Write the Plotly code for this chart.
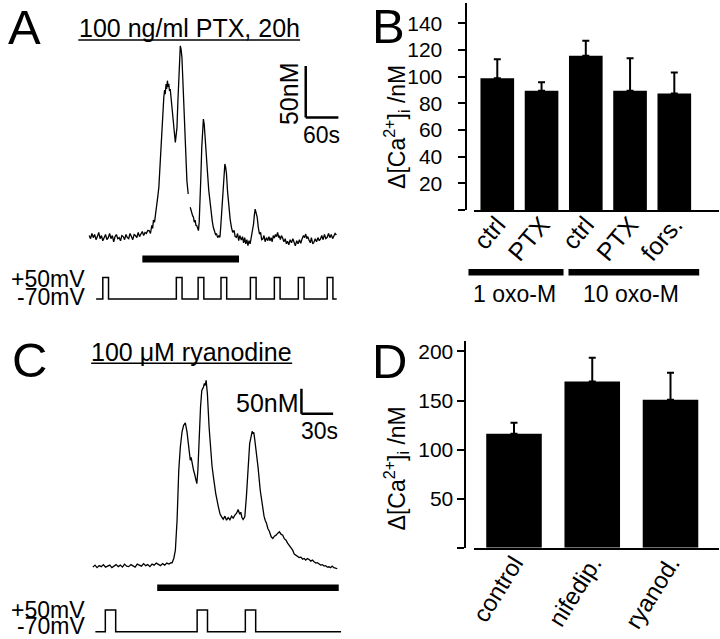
import plotly.graph_objects as go

W, H = 720, 639
FONT = "Liberation Sans, Arial, Helvetica, sans-serif"

# ---------------- Data ----------------
# Panel A: Ca trace (time s, delta Ca nM relative to baseline)
a_base_t = [i * 2.5 for i in range(44)]
a_base_ca = [2, -1, 4, 0, 3, -2, 1, 5, -1, 2, -3, 1, 3, -2, 0, 4, -1, 2, -4, 1, 3, -1,
             0, -3, 2, 1, -2, 3, 0, -1, 4, 1, -2, 3, 2, 0, 5, 1, 3, 6, 2, 5, 4, 7]
a_main_t = [110, 112.5, 115, 116.5, 118, 120, 121.8, 124, 126, 127.9, 130, 132.7, 135, 137,
            138.5, 139.5, 141.2, 142.3, 143.6, 144.8, 146.1, 147.5, 148.8, 150.3, 152, 153.9,
            156, 158.2, 159.5, 161.2, 162.7, 164.2, 165.8, 167.3, 168.8, 170.3, 171.8, 173.3,
            174.9, 176.4, 178, 179.4, 181.8, 183.5, 185.5, 187, 188.5, 190, 191.5, 193, 194.5,
            196, 197.6, 199, 200.6, 202, 203.6, 205, 206.7, 208.2, 209.7, 211.2, 212.7, 215,
            217, 219.5, 221.8, 224, 226, 227.9, 230, 232, 233.9, 236, 238, 240, 241.5, 243,
            244.5, 246.1, 247.6, 249.1, 250.6, 252.1, 254, 256.4, 258.8, 261.2, 263.5, 266,
            268, 270.3, 272.5, 274.5, 276.5, 279.4, 281.5, 283.5, 285.5, 287.5, 289.5, 291.5,
            293.5, 295.5, 297.6, 299.7, 301.8, 303.3, 304.8, 306.5, 308.5, 310.5, 312.7, 314.7,
            316.7, 318.8, 321, 323, 325.5, 327.9, 330, 332, 334, 336, 338, 340, 342, 344, 346,
            348, 349.1, 351, 353, 355.2, 357.5, 360, 362, 364.2, 366.5, 369, 371.5, 374, 376.4,
            378.5, 381, 383.5, 386, 388.5, 391, 393.5, 395.5, 397.6, 399.5, 401.5, 403.6, 406,
            408, 410.5, 412.7, 415, 417.5, 420, 422.5, 424.8, 427, 429.5, 432, 434.5, 437,
            439.5, 442, 444.5, 447, 449.1, 451.5, 453.9]
a_main_ca = [6.8, 4, 12, 9, 17, 15, 22.6, 30, 40, 48.7, 70, 100.3, 122, 135.8,
             143, 139, 148.7, 144, 152, 146, 149, 142, 144, 137, 128, 116.5,
             104, 92.3, 98, 106.8, 130, 155.2, 174, 185.8, 182, 174.5, 155, 132.6,
             111, 90.6, 72, 55.2, 42.3, None, 29.4, 26, 24, 21, 19.7, 15, 17,
             12, 11.6, 8, 6.8, 15, 32.6, 58, 87.4, 104, 114.8, 110, 100.3, 82,
             64.8, 46, 32.6, 22, 16, 10, 7, 3, 3.5, 0, 2, 0.3, 10, 22.9,
             35, 48.7, 62, 71.3, 68, 61.6, 45, 29.4, 18, 10, 5, 7,
             1, 0.3, 4, -3, 2, -2.3, 1, -5, 0, -6, -2, -7.7,
             -3, -6, 0.3, 5, 13.2, 22, 27.7, 24, 19.7, 10, 3.5, 5,
             -2, -1.3, 2, -4, 0, -2.9, 1, -3, 0, -4, 2, -0.3, 3, 1, 5,
             0, 1.9, -2, 2, -0.3, -4, -1, -6, -3.5, -7, -2, -5, -1, -4.5,
             -8, -3, -6, -2, -5.5, -1, 2, 0, 3.5, -1, 1, -2.3, -5,
             0, -6, -4.5, -1, -4, 0, -3, -1.3, 2, -2, 3, -1, 0.3,
             4, 0, 3, -1, 1.9, 4, 2.6]
trace_a_t = a_base_t + a_main_t
trace_a_ca = a_base_ca + a_main_ca

# Panel A voltage protocol
volt_a_start, volt_a_end = 12.7, 454.5
pulse_a_on = [25, 160, 200, 242, 296, 340, 384, 437]
pulse_a_dur = 10.5
drug_a = [97.6, 275.1]          # s, oxo-M application bar
scale_a = [397.6, 116.3, 60, 50]  # t0, ca0, 60 s, 50 nM

# Panel C: Ca trace
c_base_t = [i * 2 for i in range(38)]
c_base_ca = [-2, 2, -3, 1, -1, 3, -2, 0, 2, -3, 1, 3, -1, 2, -2, 4, 0, -1, 3, 1, -2, 4, 2,
             0, 5, 1, 3, -1, 4, 2, 6, 3, 1, 5, 2, 6, 4, 7]
c_main_t = [75, 76.6, 78.1, 79.7, 81.3, 82.8, 84.4, 85.9, 87.5, 89.1, 90.6, 91.5, 92.2, 93,
            93.8, 94.5, 95.3, 96.1, 96.9, 97.7, 98.4, 99.4, 100.6, 101.9, 103.1, 104.7, 105.5,
            106.3, 107.2, 107.8, 108.4, 110, 111.6, 112.8, 114.1, 116.3, 118.8, 120.3, 121.9,
            123.4, 125, 126.5, 128.1, 129.7, 131.3, 132.8, 134.4, 136, 137.5, 139, 140, 141,
            142.2, 143.8, 145.3, 146.9, 148.4, 150, 150.8, 151.6, 152.3, 153.1, 154.7, 156.3,
            158.4, 160.9, 162, 163.1, 164.3, 165.6, 167, 168.8, 170.3, 171.8, 173.4, 175,
            176.6, 178, 179.7, 181.2, 182.8, 184.3, 185.9, 187.5, 189.1, 190.6, 192.2, 193.7,
            195.3, 197, 198.5, 200, 201.5, 203, 204.7, 206.3, 207.8, 209.4, 211, 212.5, 214.1,
            215.6, 217.2, 218.8, 220.3, 221.8, 223.4, 225, 226.5, 228.1, 229.7, 231.3]
c_main_ca = [6.7, 15.3, 32, 92, 192, 238.7, 268.7, 282, 286.7, 268.7, 238.7, 228, 212, 218,
             205.3, 198, 192, 186, 178.7, 172, 165.3, 192, 258.7, 318.7, 352, 358.7, 366,
             362, 372, 358, 345.3, 278.7, 225.3, 200, 178.7, 145.3, 118.7, 105, 98.7,
             94, 100, 92, 97.3, 93, 100, 96, 102, 106, 113.3, 104, 108, 98,
             93.3, 98.7, 138.7, 205.3, 245.3, 262, 270, 265, 268, 255.3, 232, 198.7,
             152, 112, 100, 92, 86, 75.3, 70, 58.7, 55.3, 60, 62, 66,
             68.7, 64, 62, 55, 52, 46, 42, 36, 32, 24, 22, 19,
             17.3, 18, 14, 15.3, 12, 15, 13.3, 10, 12, 8.7, 6, 7, 4,
             2, 3, 0, 1, -2, -1.3, -3, 0, -3.3, -4, -5.3]
trace_c_t = c_base_t + c_main_t
trace_c_ca = c_base_ca + c_main_ca

volt_c_start, volt_c_end = 2.4, 234.9
pulse_c_on = [11.8, 98.7, 144.3]
pulse_c_dur = 9.8
drug_c = [60.9, 232.7]
scale_c = [197.4, 305.4, 30, 50]

# Panel B bars
b_cats = ["ctrl", "PTX", "ctrl", "PTX", "fors."]
b_vals = [98.8, 89.3, 115.5, 89.3, 87.3]
b_errs = [14.2, 6.5, 11.4, 24.5, 15.7]
b_groups = ["1 oxo-M", "10 oxo-M"]
b_yticks = [0, 20, 40, 60, 80, 100, 120, 140]

# Panel D bars
d_cats = ["control", "nifedip.", "ryanod."]
d_vals = [116.2, 169.5, 150.8]
d_errs = [11.2, 24.1, 27.5]
d_yticks = [0, 50, 100, 150, 200]

V_HIGH, V_LOW = 50, -70


# ---------------- helpers ----------------
def pxx(x):
    return x / W


def pyy(y):
    return 1 - y / H


def step_trace(start, end, ons, dur):
    xs, ys = [start], [V_LOW]
    for on in ons:
        xs += [on, on, on + dur, on + dur]
        ys += [V_LOW, V_HIGH, V_HIGH, V_LOW]
    xs.append(end)
    ys.append(V_LOW)
    return xs, ys


fig = go.Figure()

# Panel A
fig.add_trace(go.Scatter(x=trace_a_t, y=trace_a_ca, mode="lines", xaxis="x", yaxis="y",
                         line=dict(color="black", width=1.3), connectgaps=False))
vx, vy = step_trace(volt_a_start, volt_a_end, pulse_a_on, pulse_a_dur)
fig.add_trace(go.Scatter(x=vx, y=vy, mode="lines", xaxis="x", yaxis="y2",
                         line=dict(color="black", width=1.5)))

# Panel C
fig.add_trace(go.Scatter(x=trace_c_t, y=trace_c_ca, mode="lines", xaxis="x2", yaxis="y3",
                         line=dict(color="black", width=1.3)))
vx, vy = step_trace(volt_c_start, volt_c_end, pulse_c_on, pulse_c_dur)
fig.add_trace(go.Scatter(x=vx, y=vy, mode="lines", xaxis="x2", yaxis="y4",
                         line=dict(color="black", width=1.5)))

# Panel B
fig.add_trace(go.Bar(x=list(range(len(b_vals))), y=b_vals, xaxis="x3", yaxis="y5",
                     width=0.76, marker=dict(color="black", line=dict(width=0)),
                     error_y=dict(type="data", symmetric=False, array=b_errs,
                                  arrayminus=[0] * len(b_errs), color="black",
                                  thickness=2, width=3.5)))
# Panel D
fig.add_trace(go.Bar(x=list(range(len(d_vals))), y=d_vals, xaxis="x4", yaxis="y6",
                     width=0.71, marker=dict(color="black", line=dict(width=0)),
                     error_y=dict(type="data", symmetric=False, array=d_errs,
                                  arrayminus=[0] * len(d_errs), color="black",
                                  thickness=2, width=3.5)))

hidden = dict(visible=False, showgrid=False, zeroline=False, fixedrange=True)

tickfont = dict(family=FONT, size=21, color="black")

fig.update_layout(
    width=W, height=H, margin=dict(l=0, r=0, t=0, b=0),
    paper_bgcolor="white", plot_bgcolor="white", showlegend=False,
    font=dict(family=FONT, color="black"),
    xaxis=dict(domain=[pxx(80), pxx(345)], range=[-5.45, 476.4], anchor="y", **hidden),
    yaxis=dict(domain=[pyy(250), pyy(40)], range=[-12.57, 190.5], anchor="x", **hidden),
    yaxis2=dict(domain=[pyy(305), pyy(270)], range=[-106.3, 89.1], anchor="x", **hidden),
    xaxis2=dict(domain=[pxx(80), pxx(345)], range=[-6.28, 242.08], anchor="y3", **hidden),
    yaxis3=dict(domain=[pyy(580), pyy(370)], range=[-28, 392], anchor="x2", **hidden),
    yaxis4=dict(domain=[pyy(639), pyy(600)], range=[-110.4, 105.3], anchor="x2", **hidden),
    xaxis3=dict(domain=[pxx(472), pxx(719)], range=[-0.517, 5.01], anchor="y5",
                showline=True, linecolor="black", linewidth=2, ticks="",
                tickmode="array", tickvals=list(range(len(b_cats))), ticktext=b_cats,
                tickangle=-50, tickfont=dict(family=FONT, size=25, color="black"),
                ticklabelstandoff=-12,
                showgrid=False, zeroline=False, fixedrange=True),
    yaxis5=dict(domain=[pyy(209.4), pyy(2)], range=[0, 155.1], anchor="free",
                position=pxx(464), showline=True, linecolor="black", linewidth=2,
                ticks="outside", ticklen=7, tickwidth=2, tickcolor="black",
                tickmode="array", tickvals=b_yticks,
                ticktext=[""] + [str(v) for v in b_yticks[1:]],
                tickfont=tickfont, ticklabelstandoff=12,
                showgrid=False, zeroline=False, fixedrange=True),
    xaxis4=dict(domain=[pxx(472), pxx(719)], range=[-0.506, 2.62], anchor="y6",
                showline=True, linecolor="black", linewidth=2, ticks="",
                tickmode="array", tickvals=list(range(len(d_cats))), ticktext=d_cats,
                tickangle=-58, tickfont=dict(family=FONT, size=24, color="black"),
                ticklabelstandoff=-10,
                showgrid=False, zeroline=False, fixedrange=True),
    yaxis6=dict(domain=[pyy(547.5), pyy(340.7)], range=[0, 210.5], anchor="free",
                position=pxx(463), showline=True, linecolor="black", linewidth=2,
                ticks="outside", ticklen=7, tickwidth=2, tickcolor="black",
                tickmode="array", tickvals=d_yticks,
                ticktext=[""] + [str(v) for v in d_yticks[1:]],
                tickfont=tickfont, ticklabelstandoff=0,
                showgrid=False, zeroline=False, fixedrange=True),
)

shapes = []
# title underlines
shapes.append(dict(type="line", xref="paper", yref="paper", x0=pxx(72), x1=pxx(296),
                   y0=pyy(39), y1=pyy(39), line=dict(color="black", width=1.5)))
shapes.append(dict(type="line", xref="paper", yref="paper", x0=pxx(85), x1=pxx(288),
                   y0=pyy(362.7), y1=pyy(362.7), line=dict(color="black", width=1.5)))
# drug bars
shapes.append(dict(type="rect", xref="x", yref="paper", x0=drug_a[0], x1=drug_a[1],
                   y0=pyy(262), y1=pyy(255), fillcolor="black", line=dict(width=0)))
shapes.append(dict(type="rect", xref="x2", yref="paper", x0=drug_c[0], x1=drug_c[1],
                   y0=pyy(591), y1=pyy(584.3), fillcolor="black", line=dict(width=0)))
# scale bars
for (xr, yr, sc) in [("x", "y", scale_a), ("x2", "y3", scale_c)]:
    t0, c0, dt, dc = sc
    shapes.append(dict(type="line", xref=xr, yref=yr, x0=t0, x1=t0, y0=c0, y1=c0 + dc,
                       line=dict(color="black", width=2.5)))
    shapes.append(dict(type="line", xref=xr, yref=yr, x0=t0, x1=t0 + dt, y0=c0, y1=c0,
                       line=dict(color="black", width=2.5)))
# group lines under B
shapes.append(dict(type="line", xref="paper", yref="paper", x0=pxx(466), x1=pxx(562),
                   y0=pyy(271.7), y1=pyy(271.7), line=dict(color="black", width=6.5)))
shapes.append(dict(type="line", xref="paper", yref="paper", x0=pxx(567), x1=pxx(699),
                   y0=pyy(271.7), y1=pyy(271.7), line=dict(color="black", width=6.5)))
fig.update_layout(shapes=shapes)


def ann(text, x, y, size, xanchor="center", yanchor="middle", angle=0):
    return dict(text=text, x=pxx(x), y=pyy(y), xref="paper", yref="paper",
                showarrow=False, xanchor=xanchor, yanchor=yanchor, textangle=angle,
                font=dict(family=FONT, size=size, color="black"))


ylab = "Δ[Ca<sup>2+</sup>]<sub>i</sub> /nM"
annotations = [
    ann("A", 17.5, 26, 49), ann("B", 385, 25, 49), ann("C", 23, 360, 49), ann("D", 386, 361, 49),
    ann("100 ng/ml PTX, 20h", 184, 27, 25),
    ann("100 μM ryanodine", 186, 352, 25),
    ann("50nM", 285, 93, 25, angle=-90), ann("60s", 318, 134, 23),
    ann("50nM", 297, 403, 25, xanchor="right"), ann("30s", 316, 431, 23),
    ann("+50mV", 81, 278, 23, xanchor="right"), ann("-70mV", 81, 296, 23, xanchor="right"),
    ann("+50mV", 81, 610, 23, xanchor="right"), ann("-70mV", 81, 626, 23, xanchor="right"),
    ann(b_groups[0], 512.5, 293, 23), ann(b_groups[1], 630.5, 293, 23),
    ann(ylab, 393, 126, 23, angle=-90), ann(ylab, 393, 468, 23, angle=-90),
]
fig.update_layout(annotations=annotations)

fig.write_html("out.html", config={"displayModeBar": False},
               post_script="document.body.style.margin='0';document.body.style.padding='0';")
